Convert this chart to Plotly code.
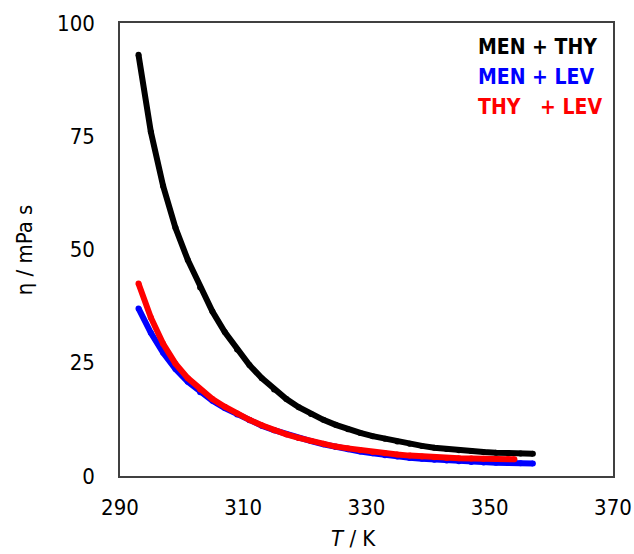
import plotly.graph_objects as go

T_men_thy = [293, 295, 297, 299, 301, 303, 305, 307, 309, 311, 313, 315, 317, 319, 321, 323, 325, 327, 329,
             331, 333, 335, 337, 339, 341, 343, 345, 347, 349, 351, 353, 355, 357]
eta_men_thy = [93, 76, 64, 54.8, 47.7, 41.6, 36.3, 31.8, 27.9, 24.5, 21.6, 19.1, 17.0, 15.2, 13.7, 12.4,
               11.3, 10.3, 9.5, 8.8, 8.2, 7.6, 7.1, 6.65, 6.25, 5.95, 5.7, 5.5, 5.3, 5.15, 5.05, 4.95, 4.9]

T_men_lev = [293, 295, 297, 299, 301, 303, 305, 307, 309, 311, 313, 315, 317, 319, 321, 323, 325, 327, 329,
             331, 333, 335, 337, 339, 341, 343, 345, 347, 349, 351, 353, 355, 357]
eta_men_lev = [37, 31.6, 27.2, 23.6, 20.8, 18.5, 16.6, 15.0, 13.6, 12.3, 11.1, 10.1, 9.2, 8.4, 7.7, 7.0,
               6.4, 5.9, 5.4, 5.0, 4.6, 4.3, 4.0, 3.8, 3.6, 3.4, 3.25, 3.1, 3.0, 2.9, 2.85, 2.8, 2.75]

T_thy_lev = [293, 295, 297, 299, 301, 303, 305, 307, 309, 311, 313, 315, 317, 319, 321, 323, 325, 327, 329,
             331, 333, 335, 337, 339, 341, 343, 345, 347, 349, 351, 353, 354]
eta_thy_lev = [42.5, 35, 29.2, 24.8, 21.6, 19.1, 17.0, 15.3, 13.8, 12.4, 11.2, 10.1, 9.2, 8.4, 7.7, 7.1,
               6.5, 6.1, 5.7, 5.3, 5.0, 4.75, 4.5, 4.3, 4.15, 4.0, 3.9, 3.85, 3.8, 3.75, 3.75, 3.7]

names = ["MEN + THY", "MEN + LEV", "THY   + LEV"]
colors = ["#000000", "#0000FF", "#FF0000"]
series = [(T_men_thy, eta_men_thy), (T_men_lev, eta_men_lev), (T_thy_lev, eta_thy_lev)]

FONT = "DejaVu Sans Condensed, DejaVu Sans, sans-serif"

fig = go.Figure()
for (x, y), n, c in zip(series, names, colors):
    fig.add_trace(go.Scatter(
        x=x, y=y, name=n, mode="lines+markers",
        line=dict(color=c, width=6),
        marker=dict(color=c, size=6),
        showlegend=False,
    ))

# legend drawn as coloured text
legend_y = [0.947, 0.881, 0.815]
for n, c, yy in zip(names, colors, legend_y):
    fig.add_annotation(
        text="<b>" + n.replace(" ", "&nbsp;") + "</b>", x=0.722, y=yy, xref="paper", yref="paper",
        xanchor="left", yanchor="middle", showarrow=False,
        font=dict(family=FONT, size=21, color=c),
    )

# axis titles
fig.add_annotation(text="<i>T</i> / K", x=0.473, y=-0.170, xref="paper", yref="paper", showarrow=False,
                   xanchor="center", yanchor="bottom", font=dict(family=FONT, size=22))
fig.add_annotation(text="η / mPa s", x=-0.193, y=0.5, xref="paper", yref="paper", showarrow=False,
                   textangle=-90, xanchor="center", yanchor="middle", font=dict(family=FONT, size=22))

fig.update_layout(
    width=634, height=554,
    margin=dict(l=120, r=21, t=23, b=78, autoexpand=False),
    paper_bgcolor="white", plot_bgcolor="white",
    font=dict(family=FONT, size=22, color="#000000"),
    xaxis=dict(
        range=[290, 370], tickvals=[290, 310, 330, 350, 370],
        showgrid=False, zeroline=False, showline=True, mirror=True,
        linecolor="#404040", linewidth=1.5, ticks="", ticklabelstandoff=11,
        tickfont=dict(family=FONT, size=22), automargin=False,
    ),
    yaxis=dict(
        range=[0, 100], tickvals=[0, 25, 50, 75, 100],
        showgrid=False, zeroline=False, showline=True, mirror=True,
        linecolor="#404040", linewidth=1.5, ticks="", ticklabelstandoff=19,
        tickfont=dict(family=FONT, size=22), automargin=False,
    ),
)

# remove the browser's default 8px body margin so the figure fills the window
fig.write_html("out.html", config={"displayModeBar": False},
               post_script="document.body.style.margin='0';document.body.style.overflow='hidden';")
